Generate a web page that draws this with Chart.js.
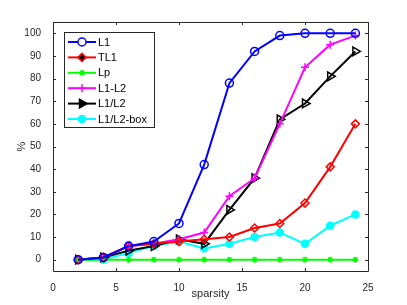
<!DOCTYPE html>
<html>
<head>
<meta charset="utf-8">
<script src="https://cdn.jsdelivr.net/npm/chart.js@4/dist/chart.umd.min.js"></script>
<style>
  html, body { margin: 0; padding: 0; background: #fff; }
  #wrap { width: 407px; height: 305px; }
</style>
</head>
<body>
<div id="wrap"><canvas id="sparsityChart"></canvas></div>
<script>
const sparsity = [2, 4, 6, 8, 10, 12, 14, 16, 18, 20, 22, 24];
const L1 = [0, 1, 6, 8, 16, 42, 78, 92, 99, 100, 100, 100];
const TL1 = [0, 1, 6, 7, 8, 9, 10, 14, 16, 25, 41, 60];
const Lp = [0, 0, 0, 0, 0, 0, 0, 0, 0, 0, 0, 0];
const L1_L2 = [0, 1, 6, 7, 9, 12, 28, 36, 60, 85, 95, 99];
const L1divL2 = [0, 1, 4, 6, 9, 7, 22, 36, 62, 69, 81, 92];
const L1divL2box = [0, 0, 3, 6, 8, 5, 7, 10, 12, 7, 15, 20];
const xTicks = [0, 5, 10, 15, 20, 25];
const yTicks = [0, 10, 20, 30, 40, 50, 60, 70, 80, 90, 100];

const FONT = 'Liberation Sans, Arial, sans-serif';

function pts(ys) {
    return sparsity.map((x, i) => ({ x: x, y: ys[i] }));
}

const seriesStyles = [
    { label: 'L1', data: L1, color: '#0000ff', style: 'circle', fill: false, r: 4 },
    { label: 'TL1', data: TL1, color: '#ff0000', style: 'rectRot', fill: false, r: 4 },
    { label: 'Lp', data: Lp, color: '#00ff00', style: 'star', fill: false, r: 3 },
    { label: 'L1-L2', data: L1_L2, color: '#ff00ff', style: 'cross', fill: false, r: 4 },
    { label: 'L1/L2', data: L1divL2, color: '#000000', style: 'triangle', fill: false, r: 5, rot: 90 },
    { label: 'L1/L2-box', data: L1divL2box, color: '#00ffff', style: 'circle', fill: true, r: 3.5 }
];

const datasets = seriesStyles.map(s => ({
    label: s.label,
    data: pts(s.data),
    borderColor: s.color,
    backgroundColor: s.color,
    borderWidth: 2,
    pointStyle: s.style,
    pointRadius: s.r,
    pointRotation: s.rot || 0,
    pointBorderWidth: 1.5,
    pointBackgroundColor: s.fill ? s.color : 'rgba(0,0,0,0)',
    pointBorderColor: s.color,
    tension: 0
}));

// frame with inward ticks, like a matlab axes box
const boxPlugin = {
    id: 'boxPlugin',
    afterDatasetsDraw(chart) {
        const ctx = chart.ctx;
        const a = chart.chartArea;
        const xs = chart.scales.x, ys = chart.scales.y;
        ctx.save();
        ctx.strokeStyle = '#262626';
        ctx.lineWidth = 1;
        ctx.beginPath();
        ctx.rect(Math.round(a.left) + 0.5, Math.round(a.top) + 0.5,
                 Math.round(a.right - a.left), Math.round(a.bottom - a.top));
        xTicks.forEach(v => {
            const px = Math.round(xs.getPixelForValue(v)) + 0.5;
            ctx.moveTo(px, a.bottom); ctx.lineTo(px, a.bottom - 3);
            ctx.moveTo(px, a.top); ctx.lineTo(px, a.top + 3);
        });
        yTicks.forEach(v => {
            const py = Math.round(ys.getPixelForValue(v)) + 0.5;
            ctx.moveTo(a.left, py); ctx.lineTo(a.left + 3, py);
            ctx.moveTo(a.right, py); ctx.lineTo(a.right - 3, py);
        });
        ctx.stroke();

        // legend box
        const lx = 64, ly = 32, lw = 90, lh = 95;
        ctx.fillStyle = '#fff';
        ctx.fillRect(lx, ly, lw, lh);
        ctx.strokeStyle = '#262626';
        ctx.strokeRect(lx + 0.5, ly + 0.5, lw, lh);
        ctx.font = '11px ' + FONT;
        ctx.textBaseline = 'middle';
        ctx.textAlign = 'left';
        seriesStyles.forEach((s, i) => {
            const y = 42 + i * 15.4;
            ctx.strokeStyle = s.color;
            ctx.lineWidth = 2;
            ctx.beginPath();
            ctx.moveTo(68, y); ctx.lineTo(96, y);
            ctx.stroke();
            ctx.lineWidth = 1.5;
            Chart.helpers.drawPoint(ctx, {
                pointStyle: s.style, radius: s.r, rotation: s.rot || 0, borderWidth: 1.5
            }, 82, y);
            ctx.fillStyle = s.color;
            if (s.fill || s.style === 'triangle') ctx.fill();
            ctx.fillStyle = '#000';
            ctx.fillText(s.label, 98, y + 0.5);
        });
        ctx.restore();
    }
};

const config = {
    type: 'line',
    data: { datasets: datasets },
    options: {
        responsive: false,
        animation: false,
        layout: { padding: { left: 0, top: 22, right: 39, bottom: 0 } },
        plugins: {
            legend: { display: false },
            tooltip: { enabled: false }
        },
        scales: {
            x: {
                type: 'linear',
                min: 0,
                max: 25,
                afterBuildTicks: axis => { axis.ticks = xTicks.map(v => ({ value: v })); },
                afterFit: axis => { axis.height = 34; },
                grid: { display: false },
                border: { display: false },
                ticks: { color: '#262626', font: { family: FONT, size: 10 }, padding: 3, maxRotation: 0 },
                title: { display: true, text: 'sparsity', color: '#262626', font: { family: FONT, size: 11 }, padding: { top: 0 } }
            },
            y: {
                type: 'linear',
                min: -5,
                max: 105,
                afterBuildTicks: axis => { axis.ticks = yTicks.map(v => ({ value: v })); },
                afterFit: axis => { axis.width = 53; },
                grid: { display: false },
                border: { display: false },
                ticks: { color: '#262626', font: { family: FONT, size: 10 }, padding: 4 },
                title: { display: true, text: '%', color: '#262626', font: { family: FONT, size: 11 }, padding: { top: 15, bottom: 0 } }
            }
        }
    },
    plugins: [boxPlugin]
};

const canvas = document.getElementById('sparsityChart');
canvas.width = 407;
canvas.height = 305;
var sparsityChart = new Chart(canvas, config);
</script>
</body>
</html>
